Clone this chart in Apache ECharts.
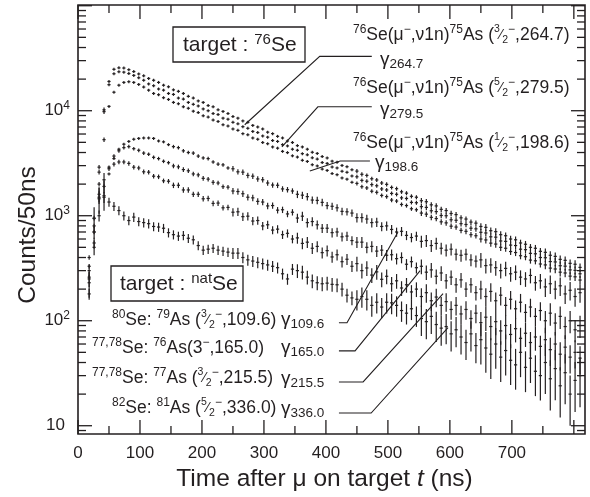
<!DOCTYPE html>
<html><head><meta charset="utf-8">
<script src="https://cdn.jsdelivr.net/npm/echarts@6/dist/echarts.min.js"></script>
<style>html,body{margin:0;padding:0;background:#fff}#c{width:590px;height:497px}</style>
</head><body><div id="c"></div>
<script>
const INK = '#231f20';
const FONT = '"Liberation Sans", Arial, Helvetica, sans-serif';

// ---- data ----
const timeNs = [18,26,34,42,50,58,66,74,82,90,98,106,114,122,130,138,146,154,162,170,178,186,194,202,210,218,226,234,242,250,258,266,274,282,290,298,306,314,322,330,338,346,354,362,370,378,386,394,402,410,418,426,434,442,450,458,466,474,482,490,498,506,514,522,530,538,546,554,562,570,578,586,594,602,610,618,626,634,642,650,658,666,674,682,690,698,706,714,722,730,738,746,754,762,770,778,786,794,802,810];

const se76_g264 = [400,950,2900,10200,19000,24800,25600,25500,24600,23600,22400,21500,20300,19500,18600,17500,16900,15800,15300,14600,13700,13200,12400,12000,11200,10900,10200,9850,9400,8800,8500,8000,7750,7250,7000,6700,6250,6050,5700,5500,5150,4980,4650,4520,4300,4020,3920,3660,3550,3310,3230,3010,2930,2740,2660,2480,2420,2250,2190,2050,1990,1860,1810,1690,1640,1530,1500,1390,1360,1270,1240,1150,1120,1050,1025,955,930,870,850,790,775,720,705,660,645,600,590,550,535,500,490,458,448,420,410,384,376,352,345,322];
const se76_g280 = [330,800,2600,9800,17700,22500,23500,23300,22600,21700,20600,19500,18000,17300,16100,15700,14600,14300,13200,12900,12000,11500,11100,10400,10000,9400,9200,8500,8300,7750,7500,7050,6800,6350,6200,5750,5600,5200,5100,4750,4620,4300,4200,3900,3800,3560,3460,3210,3150,2910,2850,2650,2590,2390,2350,2170,2130,1980,1930,1800,1760,1630,1600,1480,1460,1340,1330,1220,1200,1115,1095,1005,1000,915,905,840,825,760,750,695,685,630,625,575,570,525,520,480,475,438,434,400,398,366,363,334,331,305,302,280];
const se76_g199 = [260,700,2000,5300,11000,15000,17500,18600,18900,18600,17800,16800,15700,14600,14200,13300,12800,12000,11650,10900,10550,9900,9600,8950,8700,8150,7900,7350,7150,6700,6500,6050,5900,5500,5350,4980,4850,4520,4400,4100,3990,3720,3620,3370,3290,3060,2980,2780,2700,2520,2460,2290,2230,2080,2030,1890,1840,1710,1670,1560,1520,1410,1380,1280,1250,1165,1140,1060,1035,965,940,875,855,795,780,725,710,660,645,600,588,548,537,500,490,456,446,416,407,378,372,347,340,317,311,290,285,266,262,244];
const nat_g110 = [180,550,1000,1500,2500,3500,4300,4800,5100,5350,5450,5500,5500,5450,5150,5050,4750,4550,4450,4150,4000,3950,3700,3550,3500,3250,3100,3050,2850,2800,2620,2600,2420,2380,2240,2200,2050,1960,1950,1800,1770,1720,1600,1570,1520,1410,1400,1340,1250,1230,1190,1100,1090,1060,960,960,930,860,870,790,800,740,700,710,650,620,640,570,580,520,545,490,470,480,430,420,430,380,370,380,335,340,320,300,315,280,290,260,250,270,230,240,210,225,200,215,180,195,170,185];
const nat_g165 = [300,700,1500,1900,2900,3700,4150,4450,4550,4350,4200,3950,3850,3600,3500,3300,3200,2980,2920,2750,2680,2500,2450,2270,2230,2080,2050,1890,1870,1720,1700,1620,1500,1480,1370,1350,1240,1250,1130,1140,1040,1080,950,990,860,880,820,760,760,690,700,630,640,580,560,560,500,510,460,470,420,425,390,400,345,365,320,330,290,305,265,285,240,260,220,245,200,220,185,200,170,190,155,175,140,160,130,150,120,135,110,125,100,118,95,110,88,100,82,90];
const nat_g216 = [250,500,1600,2200,2800,3100,3250,3250,3150,2900,2850,2620,2600,2380,2350,2150,2130,1950,1950,1760,1760,1600,1600,1450,1460,1310,1320,1190,1200,1080,1090,980,990,890,900,800,820,730,745,660,680,600,615,545,560,490,510,445,465,405,425,365,385,330,350,300,318,272,292,248,265,225,240,205,220,188,200,170,185,155,168,140,152,128,140,116,128,105,118,96,108,88,98,80,90,74,84,68,76,62,70,57,66,53,60,48,56,45,50,44];
const nat_g336 = [230,940,1450,1550,1350,1230,1120,1000,900,970,880,860,840,790,780,760,690,660,640,650,610,590,520,470,480,490,470,460,450,440,440,400,380,370,360,350,340,330,320,280,250,310,300,290,260,240,230,225,228,222,220,200,175,165,160,170,160,140,150,135,150,148,140,125,118,130,112,105,98,110,92,85,88,75,82,70,62,75,58,66,55,48,60,45,52,42,38,50,36,44,33,30,40,28,35,24,32,20,27,30];

// relative uncertainties, read at 100 ns steps (nearest step is used)
const errKnotNs  = [0,100,200,300,400,500,600,700,800];
const relErrSe76 = [0.05,0.012,0.015,0.02,0.03,0.045,0.06,0.075,0.09];
const relErrG110 = [0.12,0.03,0.04,0.06,0.08,0.10,0.13,0.16,0.20];
const relErrG165 = [0.14,0.04,0.05,0.07,0.10,0.12,0.16,0.20,0.24];
const relErrG216 = [0.16,0.05,0.06,0.09,0.12,0.16,0.20,0.26,0.30];
const relErrG336 = [0.28,0.10,0.10,0.12,0.15,0.22,0.32,0.42,0.50];

// axes
const xLabelValues = [0,100,200,300,400,500,600,700];
const xMajorTicks = [0,100,200,300,400,500,600,700,800];
const xMinorTicks = [50,150,250,350,450,550,650,750];
const yLabelValues = [10,100,1000,10000];
const yMajorTicks = [10,100,1000,10000,100000];
const yMinorTicks = [9,20,30,40,50,60,70,80,90,200,300,400,500,600,700,800,900,2000,3000,4000,5000,6000,7000,8000,9000,20000,30000,40000,50000,60000,70000,80000,90000];
const X_MIN = 0, X_MAX = 818, Y_MIN = 8.34, Y_MAX = 101600;

// annotation leader lines in data coordinates [t (ns), counts]
const leaderLines = [
  [[269,7350],[390,32900],[474,32900]],
  [[329,4520],[387,10900],[474,10900]],
  [[374,2670],[423,3320],[471,3320]],
  [[516,695],[434,95.7],[421,95.7]],
  [[552,300],[447,51.6],[421,51.6]],
  [[589,181],[460,26.1],[421,26.1]],
  [[597,86],[473,13.2],[421,13.2]]
];

// ---- rendering ----
function relErrAt(rel, t){
  let i = Math.round(t/100); i = Math.max(0, Math.min(rel.length-1, i));
  return rel[i];
}
function pointSeries(name, values, rel){
  return {
    type:'custom', name, clip:true, silent:true, z:3,
    data: timeNs.map((t,i)=>[t, values[i], values[i]*relErrAt(rel,t)]),
    encode:{x:0,y:1},
    renderItem(params, api){
      const t = api.value(0), v = api.value(1), e = api.value(2);
      const p = api.coord([t, v]);
      const hi = api.coord([t, v+e])[1];
      const lo = api.coord([t, Math.max(v-e, v*0.03)])[1];
      const y1 = Math.min(hi, p[1]-1.5), y2 = Math.max(lo, p[1]+1.5);
      return {type:'group', children:[
        {type:'line', shape:{x1:p[0],y1:y1,x2:p[0],y2:y2}, style:{stroke:INK,lineWidth:1.2}},
        {type:'line', shape:{x1:p[0]-1.6,y1:p[1],x2:p[0]+1.6,y2:p[1]}, style:{stroke:INK,lineWidth:1.2}}
      ]};
    }
  };
}

const tickData = [].concat(
  yMajorTicks.map(v=>[X_MIN, v, 1]),
  yMinorTicks.map(v=>[X_MIN, v, 2]),
  xMajorTicks.map(v=>[v, Y_MIN, 3]),
  xMinorTicks.map(v=>[v, Y_MIN, 4])
);
const tickSeries = {
  type:'custom', silent:true, clip:false, z:4, data:tickData, encode:{x:0,y:1},
  renderItem(params, api){
    const cs = params.coordSys;
    const kind = api.value(2);
    const p = api.coord([api.value(0), api.value(1)]);
    const st = {stroke:INK, lineWidth:1.3};
    if (kind <= 2){
      const len = kind===1 ? 14 : 8;
      return {type:'group', children:[
        {type:'line', shape:{x1:cs.x, y1:p[1], x2:cs.x+len, y2:p[1]}, style:st},
        {type:'line', shape:{x1:cs.x+cs.width-len, y1:p[1], x2:cs.x+cs.width, y2:p[1]}, style:st}
      ]};
    }
    const len = kind===3 ? 14 : 8;
    return {type:'group', children:[
      {type:'line', shape:{x1:p[0], y1:cs.y+cs.height, x2:p[0], y2:cs.y+cs.height-len}, style:st},
      {type:'line', shape:{x1:p[0], y1:cs.y, x2:p[0], y2:cs.y+len}, style:st}
    ]};
  }
};

const leaderSeries = {
  type:'custom', silent:true, clip:false, z:5,
  data: leaderLines.map((l,i)=>[l[0][0], l[0][1], i]), encode:{x:0,y:1},
  renderItem(params, api){
    const pts = leaderLines[api.value(2)].map(q=>api.coord(q));
    return {type:'polyline', shape:{points:pts}, style:{stroke:INK, lineWidth:1.1, fill:'none'}};
  }
};

// rich text styles for annotations
function tok(size, lh, va, extra){
  return Object.assign({fontSize:size, lineHeight:lh, verticalAlign:va, fontFamily:FONT, fill:INK, color:INK}, extra||{});
}
const RICH = {
  n: tok(17.5,22,'middle'),
  s: tok(12,13,'top'),
  fn: tok(10.5,13,'top'),
  fs: tok(14,22,'middle'),
  fd: tok(10.5,10,'bottom'),
  m: tok(12,11,'top'),
  g: tok(19,22,'middle'),
  sub: tok(13.5,12,'bottom'),
  b: tok(21,26,'middle'),
  bs: tok(15,15,'top')
};
function txt(x, y, text){
  return {type:'text', x:x, y:y, z:10, silent:true,
    style:{text:text, rich:RICH, align:'left', verticalAlign:'middle', fill:INK, fontFamily:FONT}};
}
const frac = (a)=>'{fn|'+a+'}{fs|⁄}{fd|2}{m|−}';
const graphics = [
  {type:'rect', z:10, silent:true, shape:{x:173,y:27,width:132,height:35}, style:{fill:'#fff',stroke:INK,lineWidth:1.3}},
  txt(183, 45, '{b|target : }{bs|76}{b|Se}'),
  {type:'rect', z:10, silent:true, shape:{x:111,y:266,width:132,height:35}, style:{fill:'#fff',stroke:INK,lineWidth:1.3}},
  txt(120, 284, '{b|target : }{bs|nat}{b|Se}'),
  txt(353, 35, '{s|76}{n|Se(μ}{s|−}{n|,ν1n)}{s|75}{n|As (}'+frac(3)+'{n|,264.7)}'),
  txt(353, 88, '{s|76}{n|Se(μ}{s|−}{n|,ν1n)}{s|75}{n|As (}'+frac(5)+'{n|,279.5)}'),
  txt(353, 143, '{s|76}{n|Se(μ}{s|−}{n|,ν1n)}{s|75}{n|As (}'+frac(1)+'{n|,198.6)}'),
  txt(380, 60, '{g|γ}{sub|264.7}'),
  txt(380, 110, '{g|γ}{sub|279.5}'),
  txt(375, 163, '{g|γ}{sub|198.6}'),
  txt(112, 320, '{s|80}{n|Se: }{s|79}{n|As (}'+frac(3)+'{n|,109.6)}'),
  txt(92, 348, '{s|77,78}{n|Se: }{s|76}{n|As(3}{s|−}{n|,165.0)}'),
  txt(92, 378, '{s|77,78}{n|Se: }{s|77}{n|As (}'+frac(3)+'{n|,215.5)}'),
  txt(112, 408, '{s|82}{n|Se: }{s|81}{n|As (}'+frac(5)+'{n|,336.0)}'),
  txt(281, 320, '{g|γ}{sub|109.6}'),
  txt(281, 348, '{g|γ}{sub|165.0}'),
  txt(281, 379, '{g|γ}{sub|215.5}'),
  txt(281, 409, '{g|γ}{sub|336.0}'),
  {type:'text', x:28, y:235, rotation:Math.PI/2, z:10, silent:true,
    style:{text:'Counts/50ns', align:'center', verticalAlign:'middle', fill:INK, fontFamily:FONT, fontSize:24.5}}
];

const isPow10 = v => { const l = Math.log10(v); return Math.abs(l-Math.round(l)) < 1e-6; };

const chart = echarts.init(document.getElementById('c'), null, {renderer:'canvas'});
chart.setOption({
  animation:false,
  backgroundColor:'#fff',
  grid:{left:78, right:5, top:5, bottom:63, show:true, borderColor:INK, borderWidth:1.6, backgroundColor:'transparent'},
  xAxis:{
    type:'value', min:X_MIN, max:X_MAX, interval:100,
    axisLine:{show:false}, axisTick:{show:false}, splitLine:{show:false},
    axisLabel:{color:INK, fontSize:17, fontFamily:FONT, margin:11,
      formatter:v=> xLabelValues.indexOf(v) >= 0 ? String(v) : ''},
    name:'Time after μ on target {i|t} (ns)', nameLocation:'middle', nameGap:32,
    nameTextStyle:{color:INK, fontSize:24.5, fontFamily:FONT, padding:[0,14,0,0],
      rich:{i:{fontStyle:'italic', fontSize:24.5, fontFamily:FONT, color:INK}}}
  },
  yAxis:{
    type:'log', logBase:10, min:Y_MIN, max:Y_MAX,
    axisLine:{show:false}, axisTick:{show:false}, splitLine:{show:false}, minorTick:{show:false},
    axisLabel:{color:INK, fontFamily:FONT, margin:8,
      formatter:v=>{
        if (!isPow10(v)) return '';
        const e = Math.round(Math.log10(v));
        if (yLabelValues.indexOf(Math.pow(10,e)) < 0) return '';
        return e===1 ? '{b1|10}' : '{b|10}{e|'+e+'}';
      },
      rich:{b:{fontSize:17, lineHeight:22, fontFamily:FONT, color:INK},
            b1:{fontSize:17, lineHeight:22, fontFamily:FONT, color:INK, padding:[0,5,0,0]},
            e:{fontSize:12, lineHeight:13, verticalAlign:'top', fontFamily:FONT, color:INK}}}
  },
  graphic: graphics,
  series:[
    pointSeries('γ264.7', se76_g264, relErrSe76),
    pointSeries('γ279.5', se76_g280, relErrSe76),
    pointSeries('γ198.6', se76_g199, relErrSe76),
    pointSeries('γ109.6', nat_g110, relErrG110),
    pointSeries('γ165.0', nat_g165, relErrG165),
    pointSeries('γ215.5', nat_g216, relErrG216),
    pointSeries('γ336.0', nat_g336, relErrG336),
    tickSeries,
    leaderSeries
  ]
});
</script></body></html>
